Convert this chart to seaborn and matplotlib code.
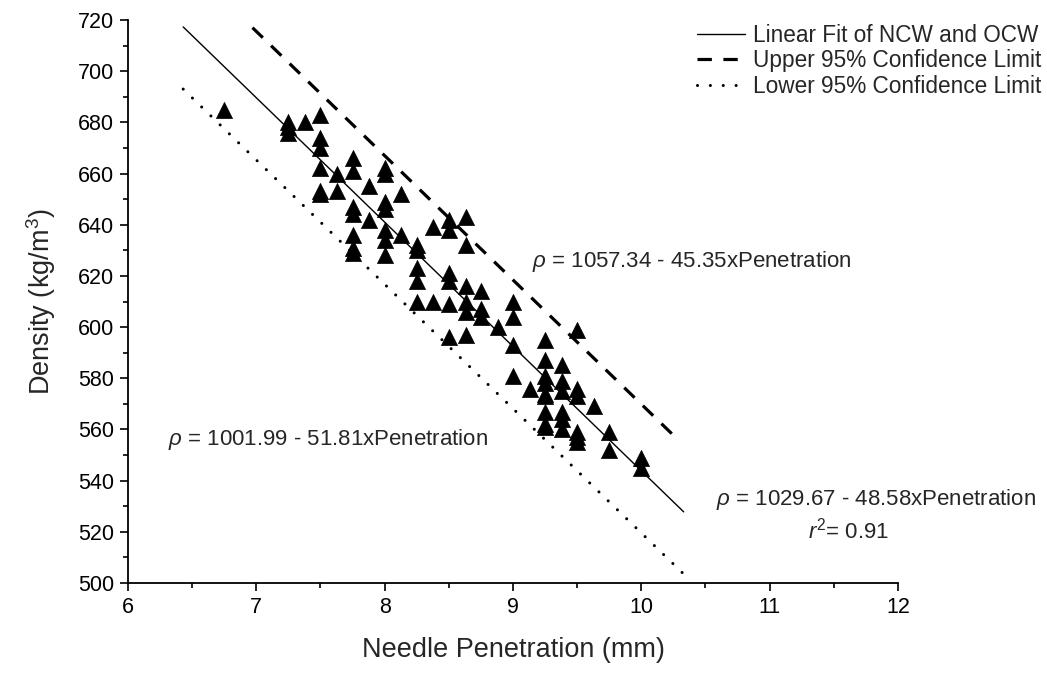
import numpy as np
import pandas as pd
import matplotlib
matplotlib.use("Agg")
import matplotlib.pyplot as plt
from matplotlib.ticker import MultipleLocator
import seaborn as sns

# ---- data ----
pen_x = [6.75,
         7.25, 7.25, 7.25,
         7.38,
         7.5, 7.5, 7.5, 7.5, 7.5, 7.5,
         7.63, 7.63,
         7.75, 7.75, 7.75, 7.75, 7.75, 7.75, 7.75,
         7.88, 7.88,
         8.0, 8.0, 8.0, 8.0, 8.0, 8.0, 8.0,
         8.13, 8.13,
         8.25, 8.25, 8.25, 8.25, 8.25,
         8.38, 8.38,
         8.5, 8.5, 8.5, 8.5, 8.5, 8.5,
         8.63, 8.63, 8.63, 8.63, 8.63, 8.63,
         8.75, 8.75, 8.75,
         8.88,
         9.0, 9.0, 9.0, 9.0,
         9.13,
         9.25, 9.25, 9.25, 9.25, 9.25, 9.25, 9.25, 9.25, 9.25,
         9.38, 9.38, 9.38, 9.38, 9.38, 9.38,
         9.5, 9.5, 9.5, 9.5, 9.5, 9.5,
         9.63,
         9.75, 9.75,
         10.0, 10.0]
density = [685,
           680, 678, 676,
           680,
           683, 674, 670, 662, 653, 652,
           660, 653,
           666, 661, 647, 644, 636, 631, 629,
           655, 642,
           662, 660, 649, 646, 638, 634, 628,
           652, 636,
           632, 630, 623, 618, 610,
           639, 610,
           642, 638, 621, 618, 609, 596,
           643, 632, 616, 610, 606, 597,
           614, 607, 604,
           600,
           610, 604, 593, 581,
           576,
           595, 587, 581, 578, 574, 573, 567, 562, 561,
           585, 579, 575, 567, 564, 560,
           599, 576, 573, 559, 557, 555,
           569,
           559, 552,
           549, 545]

# line end points
fit_x = [6.43, 10.33]
fit_y = [717.3, 527.8]
upper_x = [6.97, 10.30]
upper_y = [717.0, 555.3]
lower_x = [6.43, 10.32]
lower_y = [693.0, 504.0]

line_labels = ["Linear Fit of NCW and OCW",
               "Upper 95% Confidence Limit",
               "Lower 95% Confidence Limit"]

sns.set_style("ticks")
plt.rcParams["font.family"] = ["Liberation Sans", "DejaVu Sans"]
plt.rcParams["mathtext.fontset"] = "custom"
plt.rcParams["mathtext.it"] = "Liberation Sans:italic"
plt.rcParams["mathtext.rm"] = "Liberation Sans"

fig = plt.figure(figsize=(10.47, 6.78), dpi=100)
ax = fig.add_axes([128 / 1047, 1 - 583 / 678, (898 - 128) / 1047, (583 - 20) / 678])

pts = pd.DataFrame({"x": pen_x, "y": density})
sns.scatterplot(data=pts, x="x", y="y", ax=ax, marker="^", s=135,
                color="black", edgecolor="black", linewidth=0.5, zorder=3,
                legend=False)

fit_df = pd.DataFrame({"x": fit_x, "y": fit_y})
up_df = pd.DataFrame({"x": upper_x, "y": upper_y})
lo_df = pd.DataFrame({"x": lower_x, "y": lower_y})

sns.lineplot(data=fit_df, x="x", y="y", ax=ax, color="black", linewidth=1.0,
             label=line_labels[0])
sns.lineplot(data=up_df, x="x", y="y", ax=ax, color="black", linewidth=2.3,
             label=line_labels[1])
sns.lineplot(data=lo_df, x="x", y="y", ax=ax, color="black", linewidth=2.2,
             label=line_labels[2])
lines = ax.get_lines()
lines[1].set_dashes([4.5, 3.6])
lines[2].set_dashes([0.01, 4.2])
lines[2].set_dash_capstyle("round")
lines[1].set_dash_capstyle("butt")

ax.set_xlim(6, 12)
ax.set_ylim(500, 720)
ax.xaxis.set_major_locator(MultipleLocator(1))
ax.xaxis.set_minor_locator(MultipleLocator(0.5))
ax.yaxis.set_major_locator(MultipleLocator(20))
ax.yaxis.set_minor_locator(MultipleLocator(10))
ax.tick_params(which="major", direction="out", length=6, width=1.2,
               labelsize=15.5, color="black", labelcolor="black", pad=4)
ax.tick_params(which="minor", direction="out", length=3.5, width=1.2, color="black")
for s in ["left", "bottom"]:
    ax.spines[s].set_linewidth(1.3)
    ax.spines[s].set_color("black")
sns.despine(ax=ax)

ax.set_xlabel("Needle Penetration (mm)", fontsize=19.5, labelpad=14)
ax.set_ylabel("Density (kg/m$^3$)", fontsize=19.5, labelpad=14)

leg = ax.legend(loc="upper right", bbox_to_anchor=(1041 / 1047, 1 - 24 / 678),
                bbox_transform=fig.transFigure, frameon=False, fontsize=16.3,
                handlelength=2.1, handletextpad=0.35, labelspacing=0.1,
                borderaxespad=0, borderpad=0)

fs = 16
ax.text(9.15, 625.5, r"$\it{\rho}$ = 1057.34 - 45.35xPenetration",
        fontsize=fs, va="center", ha="left")
ax.text(6.31, 556, r"$\it{\rho}$ = 1001.99 - 51.81xPenetration",
        fontsize=fs, va="center", ha="left")
ax.text(10.58, 532.5, r"$\it{\rho}$ = 1029.67 - 48.58xPenetration",
        fontsize=fs, va="center", ha="left", clip_on=False)
ax.text(11.3, 520.5, r"$\it{r}^2$= 0.91",
        fontsize=fs, va="center", ha="left")

fig.savefig("out.png", dpi=100)
